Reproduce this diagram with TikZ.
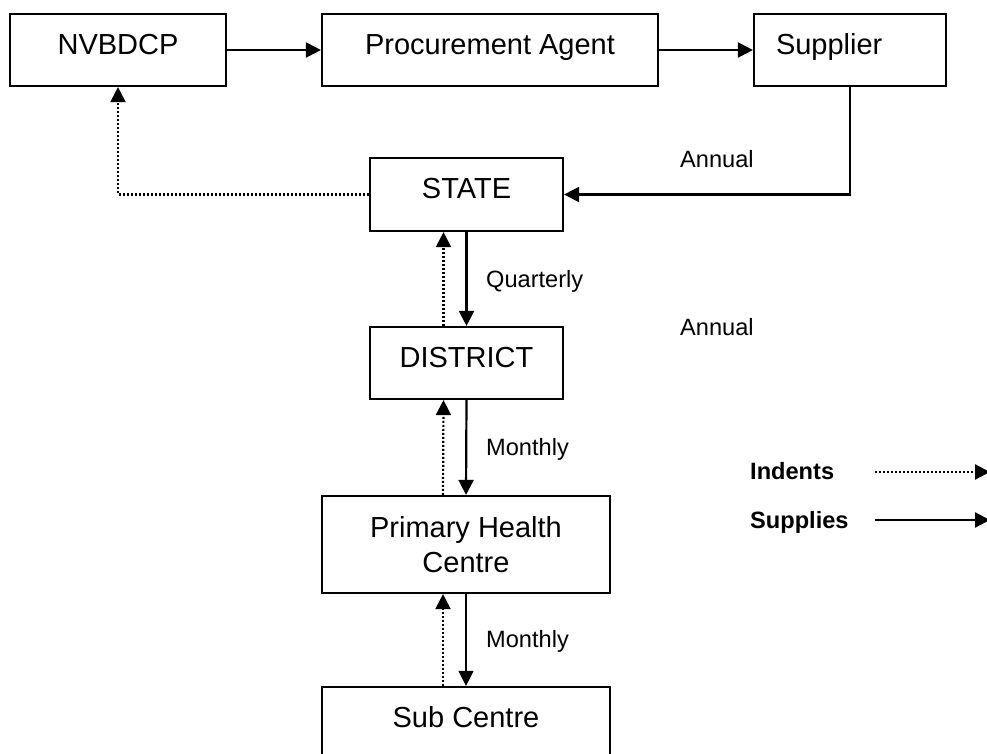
\documentclass[tikz,border=0pt]{standalone}
\usepackage{fontspec}
\setmainfont{Liberation Sans}
\usepackage{tikz}
\usetikzlibrary{arrows.meta}

\begin{document}
\begin{tikzpicture}[x=1pt,y=-1pt,
	box/.style={draw,line width=2.2pt,inner sep=0pt,minimum height=72pt,font=\fontsize{29}{35}\selectfont,text height=21pt,text depth=13pt},
	supply/.style={line width=2.2pt,-{Triangle[length=15pt,width=15pt]}},
	indent/.style={line width=2.2pt,dash pattern=on 2pt off 2pt,-{Triangle[length=15pt,width=15pt]}},
	freq/.style={inner sep=0pt,anchor=base west,font=\fontsize{23.6}{28}\selectfont},
	keytext/.style={freq,font=\fontsize{23.6}{28}\selectfont\bfseries}]
	    \useasboundingbox (0,0) rectangle (987,753);
	    \clip (0,0) rectangle (987,753);
	    \node[box,minimum width=216pt] (nvbdcp) at (118,50) {NVBDCP};
	    \node[box,minimum width=336pt] (agent) at (490,50) {Procurement Agent};
	    \node[box,minimum width=192pt,text width=148pt,align=left] (supplier) at (850,50) {Supplier};
	    \node[box,minimum width=193pt,minimum height=73pt] (state) at (466.5,194.5) {STATE};
	    \node[box,minimum width=193pt] (district) at (466.5,363) {DISTRICT};
	    \node[box,minimum width=288pt,minimum height=97pt,align=center,text height=,text depth=,yshift=-2pt] (phc) at (466,542.5) {Primary Health\\Centre};
	    \node[box,minimum width=288pt] (subc) at (466,723) {Sub Centre};
	    \draw[supply] (nvbdcp) -- (agent);
	    \draw[supply] (agent) -- (supplier);
	    \draw[supply] (supplier.south) |- (state.east);
	    \draw[indent] (state.west) -| (nvbdcp.south);
	    \draw[supply] (state.south) -- (district.north);
	    \draw[indent] ([xshift=-23pt]district.north) -- ([xshift=-23pt]state.south);
	    \draw[supply] (district.south) -- (phc.north);
	    \draw[indent] ([xshift=-23pt]phc.north) -- ([xshift=-23pt]district.south);
	    \draw[line width=2.2pt] (phc.south) -- ([yshift=-22pt]phc.south);
	    \draw[supply,line width=1.2pt] (phc.south) -- (subc.north);
	    \draw[indent] ([xshift=-23pt]subc.north) -- ([xshift=-23pt]phc.south);
	    \node[freq] (annual) at (680,167) {Annual};
	    \node[freq] (annual2) at (680,335) {Annual};
	    \node[freq] (quarterly) at (486,287) {Quarterly};
	    \node[freq] (monthly) at (486,455) {Monthly};
	    \node[freq] (monthly2) at (486,647) {Monthly};
	    \node[keytext] (indents) at (750,479) {Indents};
	    \node[keytext] (supplies) at (750,528) {Supplies};
	    \coordinate (indfrom) at (875,472);
	    \coordinate (indto) at (990,472);
	    \coordinate (supfrom) at (875,520);
	    \coordinate (supto) at (990,520);
	    \draw[indent] (indfrom) -- (indto);
	    \draw[supply] (supfrom) -- (supto);
	\end{tikzpicture}
\end{document}
